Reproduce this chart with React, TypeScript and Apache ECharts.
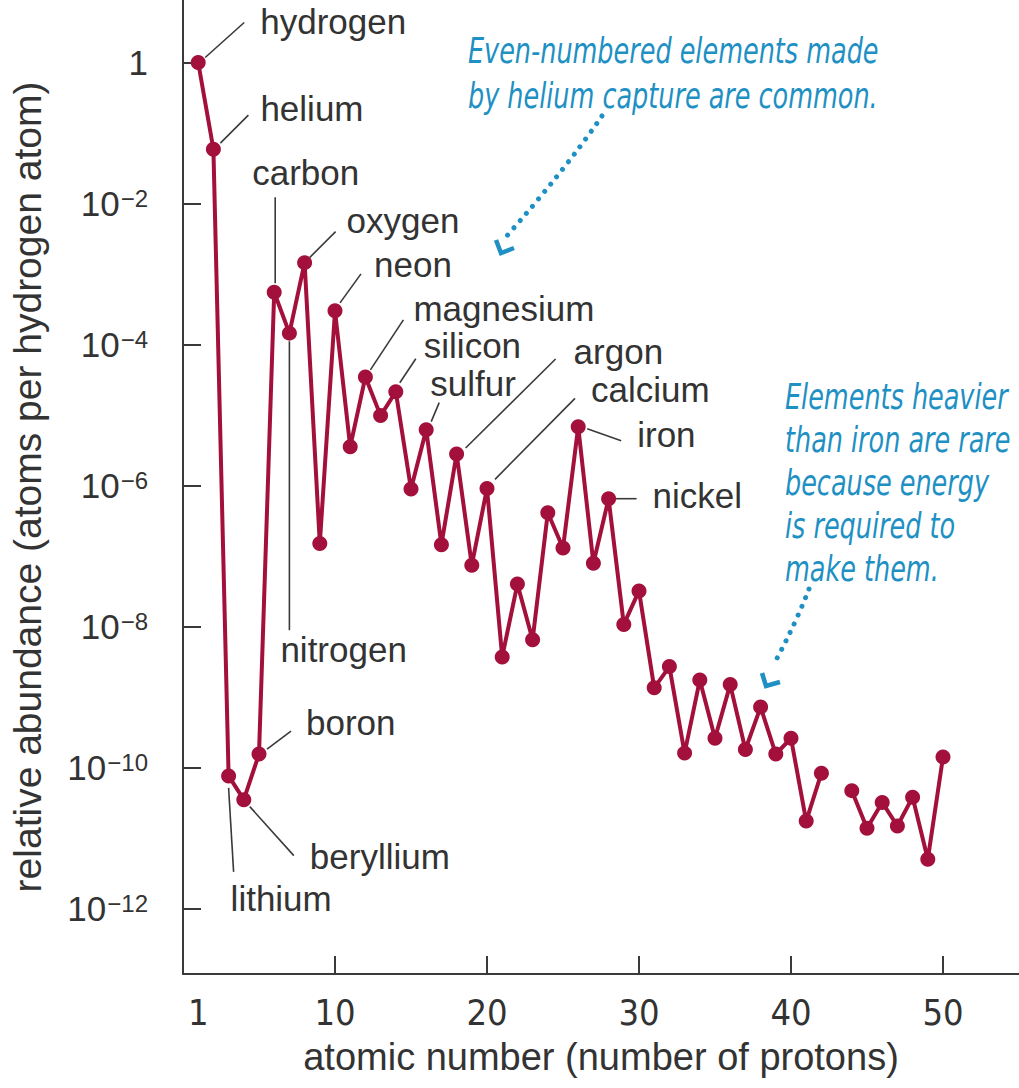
import React, { useEffect, useRef } from "react";
import * as echarts from "echarts";

// ---------- data ----------
const atomicNumbers = [
  1, 2, 3, 4, 5, 6, 7, 8, 9, 10,
  11, 12, 13, 14, 15, 16, 17, 18, 19, 20,
  21, 22, 23, 24, 25, 26, 27, 28, 29, 30,
  31, 32, 33, 34, 35, 36, 37, 38, 39, 40,
  41, 42, 43, 44, 45, 46, 47, 48, 49, 50,
];
// relative abundance (atoms per hydrogen atom); element 43 has no point
const abundance: (number | null)[] = [
  1, 5.9e-2, 7.6e-11, 3.5e-11, 1.55e-10, 5.5e-4, 1.45e-4, 1.45e-3, 1.5e-7, 3.0e-4,
  3.55e-6, 3.47e-5, 9.8e-6, 2.14e-5, 8.9e-7, 6.2e-6, 1.45e-7, 2.8e-6, 7.4e-8, 9.1e-7,
  3.7e-9, 4.0e-8, 6.5e-9, 4.1e-7, 1.3e-7, 6.8e-6, 7.9e-8, 6.5e-7, 1.07e-8, 3.2e-8,
  1.35e-9, 2.7e-9, 1.6e-10, 1.74e-9, 2.6e-10, 1.5e-9, 1.8e-10, 7.2e-10, 1.55e-10, 2.6e-10,
  1.74e-11, 8.3e-11, null, 4.7e-11, 1.38e-11, 3.2e-11, 1.48e-11, 3.8e-11, 5.0e-12, 1.41e-10,
];
const yTickValues = [1, 1e-2, 1e-4, 1e-6, 1e-8, 1e-10, 1e-12];
const xLabelValues = [1, 10, 20, 30, 40, 50];
const xTickValues = [10, 20, 30, 40, 50];
const labeledNumbers = [1, 2, 3, 4, 5, 6, 7, 8, 10, 12, 14, 16, 18, 20, 26, 28];
const labeledNames = [
  "hydrogen", "helium", "lithium", "beryllium", "boron", "carbon", "nitrogen", "oxygen",
  "neon", "magnesium", "silicon", "sulfur", "argon", "calcium", "iron", "nickel",
];
const noteEven = "Even-numbered elements made\nby helium capture are common.";
const noteHeavy = "Elements heavier\nthan iron are rare\nbecause energy\nis required to\nmake them.";

// ---------- layout (pixel offsets relative to each labelled point) ----------
const leaderLayout: Record<string, { line: number[]; text: number[] }> = {
  hydrogen: { line: [7, -5, 46, -40], text: [62, -41] },
  helium: { line: [7, -6, 35, -34], text: [47, -41] },
  lithium: { line: [0, 12, 5, 96], text: [2, 123] },
  beryllium: { line: [6, 7, 50, 56], text: [66, 57] },
  boron: { line: [8, -5, 32, -23], text: [47, -32] },
  carbon: { line: [1, -9, 1, -95], text: [-22, -120] },
  nitrogen: { line: [0, 8, 0, 297], text: [-9, 316] },
  oxygen: { line: [5, -5, 31, -31], text: [42, -42] },
  neon: { line: [5, -8, 26, -37], text: [39, -46] },
  magnesium: { line: [5, -7, 38, -57], text: [48, -68] },
  silicon: { line: [4, -9, 20, -33], text: [28, -46] },
  sulfur: { line: [5, -8, 13, -27], text: [4, -46] },
  argon: { line: [9, -6, 99, -95], text: [117, -102] },
  calcium: { line: [8, -9, 88, -90], text: [104, -99] },
  iron: { line: [9, 2, 43, 14], text: [59, 8] },
  nickel: { line: [7, 0, 28, 0], text: [44, -3] },
};

const SANS = "'Liberation Sans', Arial, Helvetica, sans-serif";
const NARROW = "'Liberation Sans Narrow', 'DejaVu Sans Condensed', 'Liberation Sans', sans-serif";
const LINE_COLOR = "#a3103c";
const TEXT_COLOR = "#333333";
const BLUE = "#1e90c3";

export default function App() {
  const ref = useRef<HTMLDivElement>(null);

  useEffect(() => {
    if (!ref.current) return;
    const chart = echarts.init(ref.current, null, { renderer: "svg" });
    const seriesData = atomicNumbers.map((n, i) => [n, abundance[i]]);

    chart.setOption({
      animation: false,
      backgroundColor: "#ffffff",
      grid: { left: 181, right: 0, top: 0, bottom: 114, containLabel: false },
      xAxis: {
        type: "value",
        min: 0,
        max: 55,
        name: "atomic number (number of protons)",
        nameLocation: "middle",
        nameGap: 64,
        nameTextStyle: { fontFamily: SANS, fontSize: 38, color: TEXT_COLOR },
        axisLine: { show: true, lineStyle: { color: "#3a3a3a", width: 2 } },
        axisTick: {
          show: true,
          inside: true,
          length: 18,
          customValues: xTickValues,
          lineStyle: { color: "#3a3a3a", width: 2 },
        },
        axisLabel: {
          customValues: xLabelValues,
          margin: 20,
          fontFamily: NARROW,
          fontSize: 36,
          color: TEXT_COLOR,
        },
        splitLine: { show: false },
      },
      yAxis: {
        type: "log",
        logBase: 10,
        min: 1.178e-13,
        max: 7.7,
        name: "relative abundance (atoms per hydrogen atom)",
        nameLocation: "middle",
        nameGap: 136,
        nameTextStyle: { fontFamily: SANS, fontSize: 39, color: TEXT_COLOR },
        axisLine: { show: true, lineStyle: { color: "#3a3a3a", width: 2 } },
        axisTick: {
          show: true,
          inside: true,
          length: 18,
          customValues: yTickValues,
          lineStyle: { color: "#3a3a3a", width: 2 },
        },
        axisLabel: {
          customValues: yTickValues,
          margin: 35,
          formatter: (v: number) => {
            const e = Math.round(Math.log10(v));
            return e === 0 ? "{base|1}" : "{base|10}{sup|\u2212" + -e + "}";
          },
          fontFamily: SANS,
          fontSize: 35,
          color: TEXT_COLOR,
          rich: {
            base: {
              fontFamily: SANS,
              fontSize: 35,
              lineHeight: 35,
              color: TEXT_COLOR,
              verticalAlign: "bottom",
            },
            sup: {
              fontFamily: SANS,
              fontSize: 24,
              lineHeight: 24,
              color: TEXT_COLOR,
              verticalAlign: "top",
              padding: [0, 0, 16, 1],
            },
          },
        },
        splitLine: { show: false },
      },
      series: [
        {
          type: "line",
          data: seriesData,
          connectNulls: false,
          symbol: "circle",
          symbolSize: 15,
          lineStyle: { color: LINE_COLOR, width: 4 },
          itemStyle: { color: LINE_COLOR },
          emphasis: { disabled: true },
          z: 3,
        },
      ],
    });

    const graphics: any[] = [];
    labeledNumbers.forEach((n, i) => {
      const name = labeledNames[i];
      const lay = leaderLayout[name];
      const p = chart.convertToPixel({ seriesIndex: 0 }, [n, abundance[n - 1]]) as number[];
      if (!p || !lay) return;
      const [px, py] = p;
      graphics.push({
        type: "line",
        shape: {
          x1: px + lay.line[0],
          y1: py + lay.line[1],
          x2: px + lay.line[2],
          y2: py + lay.line[3],
        },
        style: { stroke: "#3a3a3a", lineWidth: 1.6 },
        z: 2,
      });
      graphics.push({
        type: "text",
        x: px + lay.text[0],
        y: py + lay.text[1],
        style: {
          text: name,
          fontFamily: SANS,
          fontSize: 35,
          fill: TEXT_COLOR,
          align: "left",
          verticalAlign: "middle",
          textAlign: "left",
          textVerticalAlign: "middle",
        },
        z: 4,
      });
    });

    // blue annotations (condensed italic look via horizontal scaling)
    graphics.push({
      type: "text",
      x: 468,
      y: 28,
      scaleX: 0.81,
      style: {
        text: noteEven,
        fontFamily: NARROW,
        fontStyle: "italic",
        fontSize: 35,
        lineHeight: 45,
        fill: BLUE,
        align: "left",
        verticalAlign: "top",
        textAlign: "left",
        textVerticalAlign: "top",
      },
    });
    graphics.push({
      type: "text",
      x: 785,
      y: 375,
      scaleX: 0.81,
      style: {
        text: noteHeavy,
        fontFamily: NARROW,
        fontStyle: "italic",
        fontSize: 35,
        lineHeight: 43,
        fill: BLUE,
        align: "left",
        verticalAlign: "top",
        textAlign: "left",
        textVerticalAlign: "top",
      },
    });
    // dotted arrows
    graphics.push({
      type: "bezierCurve",
      shape: { x1: 602, y1: 116, x2: 505, y2: 238, cpx1: 565, cpy1: 170 },
      style: { stroke: BLUE, lineWidth: 5, lineDash: [0.01, 9.5], lineCap: "round", fill: null },
    });
    graphics.push({
      type: "polyline",
      shape: { points: [[496, 240], [501, 253], [514, 248]] },
      style: { stroke: BLUE, lineWidth: 4.5, fill: null },
    });
    graphics.push({
      type: "bezierCurve",
      shape: { x1: 809, y1: 589, x2: 774, y2: 664, cpx1: 795, cpy1: 625 },
      style: { stroke: BLUE, lineWidth: 5, lineDash: [0.01, 9.5], lineCap: "round", fill: null },
    });
    graphics.push({
      type: "polyline",
      shape: { points: [[762, 673], [766, 686], [780, 682]] },
      style: { stroke: BLUE, lineWidth: 4.5, fill: null },
    });

    chart.setOption({ graphic: graphics });

    return () => chart.dispose();
  }, []);

  return (
    <div
      ref={ref}
      style={{ position: "absolute", left: 0, top: 0, width: 1019, height: 1088 }}
    />
  );
}
